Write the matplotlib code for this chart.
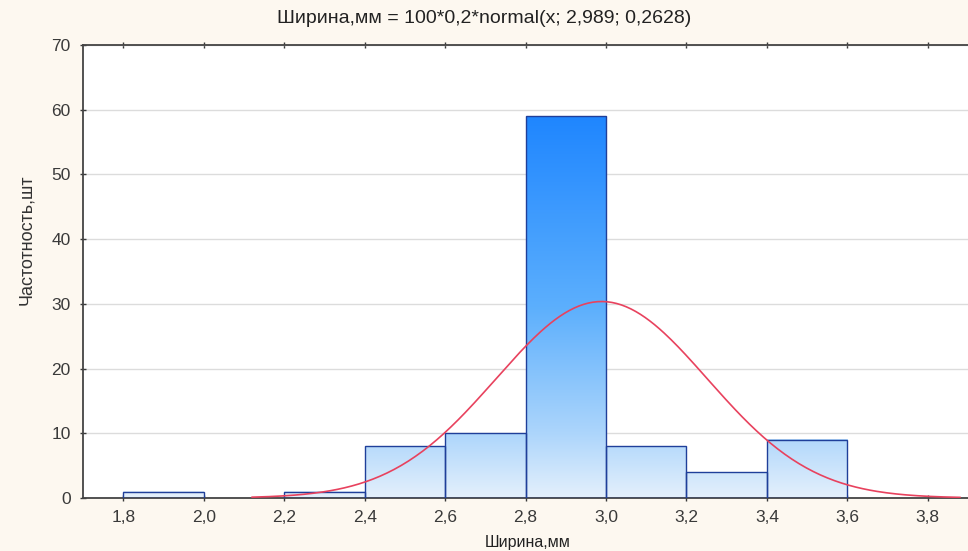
import matplotlib
matplotlib.use('Agg')
import numpy as np
import matplotlib.pyplot as plt
from matplotlib.colors import LinearSegmentedColormap

plt.rcParams['font.family'] = ['Liberation Sans', 'DejaVu Sans']

# histogram data
bin_edges = [1.8, 2.0, 2.2, 2.4, 2.6, 2.8, 3.0, 3.2, 3.4, 3.6]
counts = [1, 0, 1, 8, 10, 59, 8, 4, 9]

# fitted normal curve: 100*0.2*normal(x; 2.989; 0.2628)
n_total = 100
bin_width = 0.2
mu = 2.989
sigma = 0.2628
curve_from, curve_to = 2.12, 3.88

xticks = [1.8, 2.0, 2.2, 2.4, 2.6, 2.8, 3.0, 3.2, 3.4, 3.6, 3.8]
xtick_labels = ['1,8', '2,0', '2,2', '2,4', '2,6', '2,8', '3,0', '3,2', '3,4', '3,6', '3,8']
yticks = [0, 10, 20, 30, 40, 50, 60, 70]

fig = plt.figure(figsize=(9.68, 5.51), dpi=100)
fig.patch.set_facecolor('#fdf8f0')
ax = fig.add_axes([0.086, 0.0962, 0.914, 0.8221])
ax.set_facecolor('white')

cmap = LinearSegmentedColormap.from_list(
    'grad', [(0.0, '#e4f0fc'), (0.17, '#acd5fb'), (0.5, '#5caffd'), (1.0, '#1f86ff')])
grad = np.linspace(0, 1, 256).reshape(-1, 1)
for x0, x1, c in zip(bin_edges[:-1], bin_edges[1:], counts):
    if c == 0:
        continue
    ax.imshow(grad * c / 59.0, extent=(x0, x1, 0, c), origin='lower', aspect='auto',
              cmap=cmap, vmin=0, vmax=1, zorder=2, interpolation='bilinear')
    ax.bar(x0, c, width=x1 - x0, align='edge', facecolor='none',
           edgecolor='#1f3f9a', linewidth=1.0, zorder=3)

xs = np.linspace(curve_from, curve_to, 300)
ys = n_total * bin_width * np.exp(-0.5 * ((xs - mu) / sigma) ** 2) / (sigma * np.sqrt(2 * np.pi))
ax.plot(xs, ys, color='#e8425e', lw=1.2, zorder=4)

ax.set_xlim(1.7, 3.9)
ax.set_ylim(0, 70)
ax.set_xticks(xticks)
ax.set_xticklabels(xtick_labels)
ax.set_yticks(yticks)
ax.yaxis.grid(True, color='#dcdcdc', lw=1.0, zorder=0)
ax.set_axisbelow(True)
ax.tick_params(axis='both', labelsize=12.5, colors='#3a3a3a', length=4, width=1, direction='inout')
ax.tick_params(axis='x', top=True, pad=7)
ax.tick_params(axis='y', pad=7)
for s in ['left', 'bottom', 'top']:
    ax.spines[s].set_color('#444444')
    ax.spines[s].set_linewidth(1.3)
ax.spines['right'].set_visible(False)

fig.text(0.5, 0.966, 'Ширина,мм = 100*0,2*normal(x; 2,989; 0,2628)', ha='center', va='center',
         fontsize=14, color='#222222')
fig.text(0.545, 0.002, 'Ширина,мм', ha='center', va='bottom', fontsize=11.5, color='#222222')
fig.text(0.027, 0.565, 'Частотность,шт', ha='center', va='center', rotation=90,
         fontsize=13, color='#333333', family=['Liberation Sans Narrow', 'Liberation Sans'])

fig.savefig('out.png', dpi=100, facecolor=fig.get_facecolor())
